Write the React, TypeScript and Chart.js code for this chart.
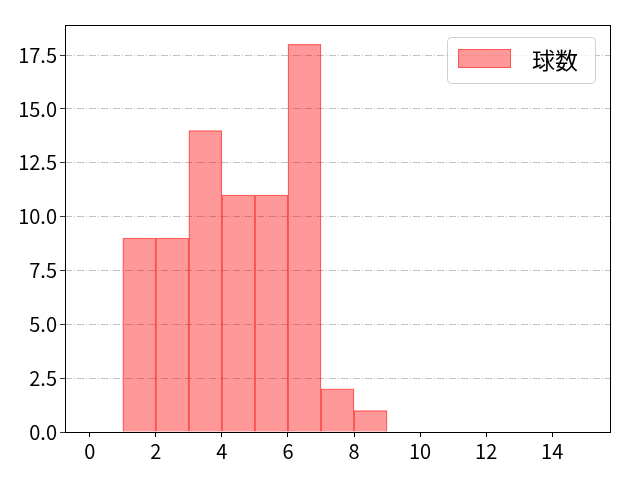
import { useEffect, useRef } from "react";
import { Chart, registerables } from "chart.js";

Chart.register(...registerables);

// histogram bins (left edge .. left edge + 1) and counts
const binCenters = [1.5, 2.5, 3.5, 4.5, 5.5, 6.5, 7.5, 8.5];
const counts = [9, 9, 14, 11, 11, 18, 2, 1];
const xTicks = [0, 2, 4, 6, 8, 10, 12, 14];
const yTicks = [0, 2.5, 5, 7.5, 10, 12.5, 15, 17.5];
const seriesLabel = "球数";

const FONT = "'Noto Sans CJK JP', 'Noto Sans', sans-serif";

const frameAndLegend = {
  id: "frameAndLegend",
  afterDraw(chart: Chart) {
    const { ctx, chartArea } = chart;
    const { left, top, right, bottom } = chartArea;
    ctx.save();
    // axes box
    ctx.strokeStyle = "#000";
    ctx.lineWidth = 1;
    ctx.strokeRect(left + 0.5, top + 0.5, right - left, bottom - top);

    // legend in upper right
    const bx = 447;
    const by = 37;
    const bw = 148;
    const bh = 46;
    ctx.fillStyle = "rgba(255,255,255,0.8)";
    ctx.strokeStyle = "#d0d0d0";
    ctx.beginPath();
    ctx.roundRect(bx + 0.5, by + 0.5, bw, bh, 4);
    ctx.fill();
    ctx.stroke();
    ctx.fillStyle = "rgba(255,0,0,0.4)";
    ctx.strokeStyle = "rgba(255,0,0,0.45)";
    ctx.fillRect(458, 49, 53, 19);
    ctx.strokeRect(458.5, 49.5, 52, 18);
    ctx.fillStyle = "#000";
    ctx.font = `23px ${FONT}`;
    ctx.textBaseline = "middle";
    ctx.fillText(seriesLabel, 532, 60);
    ctx.restore();
  },
};

export default function App() {
  const canvasRef = useRef<HTMLCanvasElement>(null);

  useEffect(() => {
    if (!canvasRef.current) return;
    const chart = new Chart(canvasRef.current, {
      type: "bar",
      data: {
        datasets: [
          {
            label: seriesLabel,
            data: binCenters.map((x, i) => ({ x, y: counts[i] })),
            backgroundColor: "rgba(255,0,0,0.4)",
            borderColor: "rgba(255,0,0,0.55)",
            borderWidth: 0.6,
            barPercentage: 1,
            categoryPercentage: 1,
          },
        ],
      },
      options: {
        animation: false,
        responsive: false,
        layout: { padding: { top: 25, right: 30, left: 0, bottom: 0 } },
        plugins: {
          legend: { display: false },
          tooltip: { enabled: false },
        },
        scales: {
          x: {
            type: "linear",
            offset: false,
            min: -0.75,
            max: 15.75,
            afterBuildTicks: (axis) => {
              axis.ticks = xTicks.map((value) => ({ value }));
            },
            afterFit: (axis) => {
              axis.height = 48;
            },
            grid: {
              display: true,
              offset: false,
              drawOnChartArea: false,
              drawTicks: true,
              tickLength: 5,
              color: "#000",
            },
            border: { display: false },
            ticks: {
              color: "#000",
              font: { family: FONT, size: 20 },
              padding: 2,
              maxRotation: 0,
            },
          },
          y: {
            min: 0,
            max: 18.9,
            afterBuildTicks: (axis) => {
              axis.ticks = yTicks.map((value) => ({ value }));
            },
            afterFit: (axis) => {
              axis.width = 65;
            },
            grid: {
              display: true,
              color: "#b0b0b0",
              tickLength: 5,
              tickColor: "#000",
              lineWidth: 0.8,
            },
            border: { display: false, dash: [7, 2, 1, 2] },
            ticks: {
              color: "#000",
              font: { family: FONT, size: 20 },
              padding: 3,
              callback: (v) => Number(v).toFixed(1),
            },
          },
        },
      },
      plugins: [frameAndLegend],
    });
    return () => chart.destroy();
  }, []);

  return (
    <div style={{ position: "absolute", left: 0, top: 0, background: "#fff" }}>
      <canvas ref={canvasRef} width={640} height={480} />
    </div>
  );
}
